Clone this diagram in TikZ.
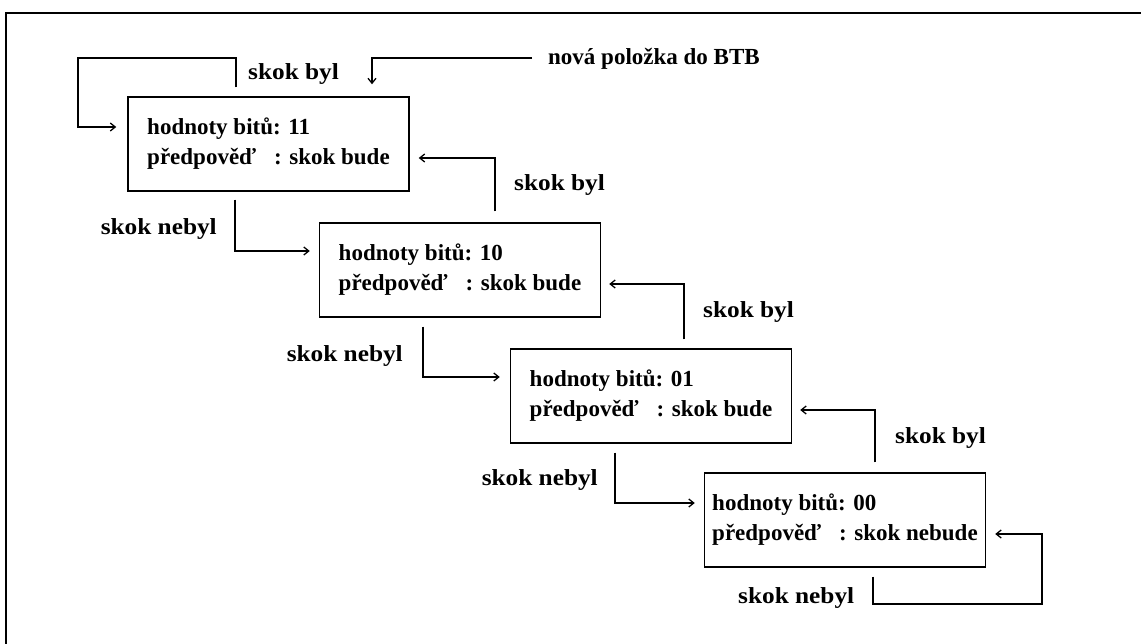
\documentclass[tikz,border=0pt]{standalone}
\usepackage{fontspec}
\setmainfont{Liberation Serif}
\newfontfamily\widefont{Liberation Serif}[FakeStretch=1.1]
\usetikzlibrary{arrows.meta}
\begin{document}
\begin{tikzpicture}[x=1pt,y=-1pt,
  font=\bfseries\fontsize{23}{30}\selectfont,
  box/.style={draw,line width=1.4pt,minimum width=281pt,minimum height=94pt,
    align=left,inner sep=0pt},
  link/.style={line width=1.3pt,
    -{Straight Barb[length=5pt,width=8pt,line width=1.3pt]}},
  lbl/.style={inner sep=0pt},
  edgelbl/.style={lbl,font=\widefont\bfseries\fontsize{23}{30}\selectfont}]
\useasboundingbox (0,0) rectangle (1141,644);
% frame
\draw[line width=2.5pt] (6,644) -- (6,13) -- (1141,13);

% states of the 2-bit predictor
\node[box] (b1) at (268.5,144) {hodnoty bitů: 11\\předpověď\hspace{18pt}: skok bude};
\node[box] (b2) at (460,270) {hodnoty bitů: 10\\předpověď\hspace{18pt}: skok bude};
\node[box] (b3) at (651,396) {hodnoty bitů: 01\\předpověď\hspace{18pt}: skok bude};
\node[box] (b4) at (845,520) {hodnoty bitů: 00\\předpověď\hspace{18pt}: skok nebude};

% labels
\node[edgelbl,anchor=base west] (byl1) at (248,80) {skok byl};
\node[lbl,anchor=base west] (nova) at (548,65) {nová položka do BTB};
\node[edgelbl,anchor=base west] (byl2) at (514,191) {skok byl};
\node[edgelbl,anchor=base west] (byl3) at (703,318) {skok byl};
\node[edgelbl,anchor=base west] (byl4) at (895,443) {skok byl};
\node[edgelbl,anchor=base east] (nebyl1) at (217,235) {skok nebyl};
\node[edgelbl,anchor=base east] (nebyl2) at (403,362) {skok nebyl};
\node[edgelbl,anchor=base east] (nebyl3) at (598,485) {skok nebyl};
\node[edgelbl,anchor=base west] (nebyl4) at (738,603) {skok nebyl};

% new entry
\draw[link,shorten <=16pt,shorten >=12pt] (nova.west |- 0,58) -| (b1.north -| 372,0);

% taken: move up towards 11
\draw[link,shorten <=9pt,shorten >=11pt]
  (b1.north -| 236,0) -- (236,58) -- (78,58) -- (78,127) -- (b1.west |- 0,127);
\draw[link,shorten <=11pt,shorten >=9pt] (b2.north -| 495,0) |- (b1.east |- 0,158);
\draw[link,shorten <=9pt,shorten >=8pt] (b3.north -| 684,0) |- (b2.east |- 0,284);
\draw[link,shorten <=10pt,shorten >=8pt] (b4.north -| 875,0) |- (b3.east |- 0,410);

% not taken: move down towards 00
\draw[link,shorten <=8pt,shorten >=9pt] (b1.south -| 235,0) |- (b2.west |- 0,251);
\draw[link,shorten <=9pt,shorten >=10pt] (b2.south -| 423,0) |- (b3.west |- 0,377);
\draw[link,shorten <=9pt,shorten >=9pt] (b3.south -| 615,0) |- (b4.west |- 0,503);
\draw[link,shorten <=9pt,shorten >=9pt]
  (b4.south -| 873,0) -- (873,604) -- (1042,604) -- (1042,534) -- (b4.east |- 0,534);
\end{tikzpicture}
\end{document}
